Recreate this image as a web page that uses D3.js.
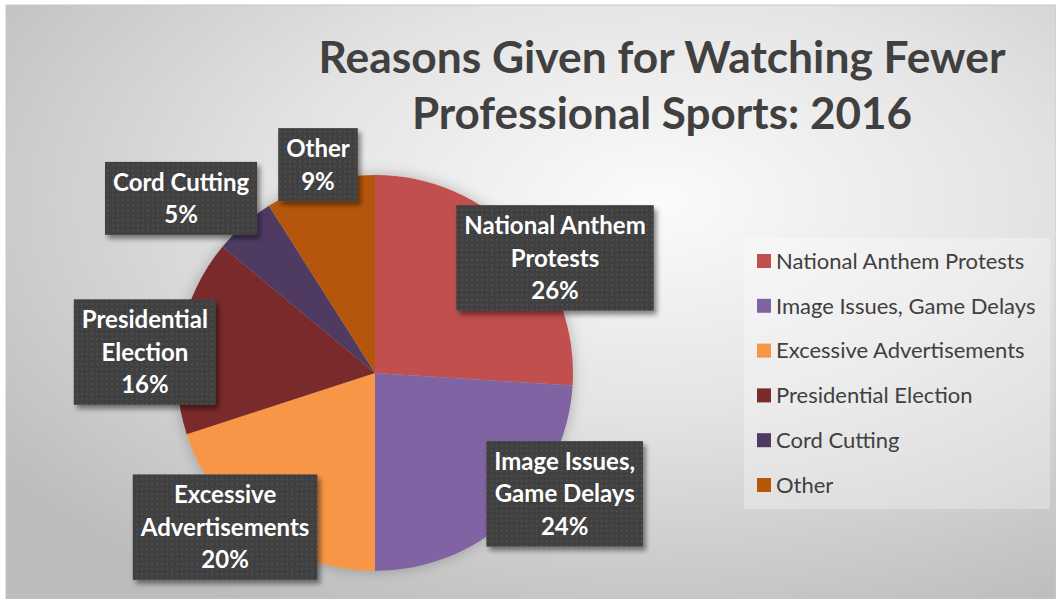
<!DOCTYPE html>
<html>
<head>
<meta charset="utf-8">
<script src="https://cdn.jsdelivr.net/npm/d3@7"></script>
<style>
  html, body { margin: 0; padding: 0; background: #ffffff; }
  svg { display: block; }
</style>
</head>
<body>
<svg id="chart" width="1056" height="599"></svg>
<script>
// ---- data ----
const categories = ["National Anthem Protests", "Image Issues, Game Delays", "Excessive Advertisements", "Presidential Election", "Cord Cutting", "Other"];
const values = [26, 24, 20, 16, 5, 9];
const labelLines = [["National Anthem", "Protests"], ["Image Issues,", "Game Delays"], ["Excessive", "Advertisements"], ["Presidential", "Election"], ["Cord Cutting"], ["Other"]];
const titleLines = ["Reasons Given for Watching Fewer", "Professional Sports: 2016"];

// ---- style / layout ----
const colors = ["#C0504D", "#8064A2", "#F79646", "#7A2C2A", "#4F3B62", "#B65708"];
// label placement: angle nudge (deg) and radius factor relative to slice mid-angle
const labelPlace = [
  { da: 10.6, k: 1.079 },
  { da: -14.3, k: 1.136 },
  { da: 8.2, k: 1.086 },
  { da: -5.6, k: 1.167 },
  { da: -6.6, k: 1.318 },
  { da: 0.9, k: 1.091 }
];

const W = 1056, H = 599;
const svg = d3.select("#chart");
const defs = svg.append("defs");

const bg = defs.append("radialGradient").attr("id", "bgGrad")
  .attr("cx", "62%").attr("cy", "33%").attr("r", "78%");
bg.append("stop").attr("offset", "0%").attr("stop-color", "#fbfbfb");
bg.append("stop").attr("offset", "45%").attr("stop-color", "#e4e4e4");
bg.append("stop").attr("offset", "100%").attr("stop-color", "#bcbcbc");

const pat = defs.append("pattern").attr("id", "dots")
  .attr("width", 5).attr("height", 5).attr("patternUnits", "userSpaceOnUse");
pat.append("rect").attr("width", 5).attr("height", 5).attr("fill", "#404040");
pat.append("rect").attr("x", 1).attr("y", 1).attr("width", 2).attr("height", 2).attr("fill", "#4d4d4d");

const sh = defs.append("filter").attr("id", "boxShadow")
  .attr("x", "-20%").attr("y", "-20%").attr("width", "150%").attr("height", "150%");
sh.append("feDropShadow").attr("dx", 3).attr("dy", 4).attr("stdDeviation", 2.5)
  .attr("flood-color", "#000").attr("flood-opacity", 0.45);

const psh = defs.append("filter").attr("id", "pieShadow")
  .attr("x", "-20%").attr("y", "-20%").attr("width", "140%").attr("height", "140%");
psh.append("feDropShadow").attr("dx", 0).attr("dy", 0).attr("stdDeviation", 7)
  .attr("flood-color", "#000").attr("flood-opacity", 0.25);

// background frame
svg.append("rect").attr("x", 6).attr("y", 5).attr("width", W - 6).attr("height", H - 5)
  .attr("fill", "url(#bgGrad)").attr("stroke", "#c8c8c8").attr("stroke-width", 1);

// title
const title = svg.append("g").attr("font-family", "Lato, 'Open Sans', sans-serif")
  .attr("font-weight", 700).attr("fill", "#404040").attr("text-anchor", "middle");
const titleY = d3.scalePoint().domain(d3.range(titleLines.length)).range([73, 129]);
const titleWidths = [687, 500];
title.selectAll("text").data(titleLines).join("text")
  .attr("x", 662).attr("y", (d, i) => titleY(i))
  .attr("font-size", 44)
  .text(d => d)
  .each(function(d, i) {
    const w = this.getComputedTextLength();
    if (Math.abs(w - titleWidths[i]) > 4) {
      d3.select(this).attr("textLength", titleWidths[i]).attr("lengthAdjust", "spacingAndGlyphs");
    }
  });

// pie
const cx = 375, cy = 373, R = 198;
const pie = d3.pie().sort(null).value(d => d);
const arcs = pie(values);
const arc = d3.arc().innerRadius(0).outerRadius(R);
const pieG = svg.append("g").attr("transform", `translate(${cx},${cy})`);
pieG.append("g").attr("filter", "url(#pieShadow)")
  .selectAll("path").data(arcs).join("path")
  .attr("d", arc).attr("fill", (d, i) => colors[i]);

// data labels
const total = d3.sum(values);
const lineH = 32.5;
const labG = pieG.append("g").attr("font-family", "Lato, 'Open Sans', sans-serif")
  .attr("font-weight", 700).attr("font-size", 24).attr("fill", "#ffffff").attr("text-anchor", "middle");
arcs.forEach((a, i) => {
  const mid = (a.startAngle + a.endAngle) / 2 + labelPlace[i].da * Math.PI / 180;
  const dist = R * labelPlace[i].k;
  const lx = Math.sin(mid) * dist, ly = -Math.cos(mid) * dist;
  const lines = labelLines[i].concat([Math.round(values[i] / total * 100) + "%"]);
  const g = labG.append("g").attr("transform", `translate(${lx},${ly})`);
  const box = g.append("rect").attr("fill", "url(#dots)").attr("filter", "url(#boxShadow)");
  const n = lines.length;
  const texts = g.selectAll("text").data(lines).join("text")
    .attr("x", 0)
    .attr("y", (d, j) => (j - (n - 1) / 2) * lineH)
    .attr("dy", "0.36em")
    .text(d => d);
  let maxW = 0;
  texts.each(function() { maxW = Math.max(maxW, this.getComputedTextLength()); });
  const bw = maxW + 16, bh = n * lineH + 8;
  box.attr("x", -bw / 2).attr("y", -bh / 2).attr("width", bw).attr("height", bh);
});

// legend
const legG = svg.append("g");
legG.append("rect").attr("x", 744).attr("y", 238).attr("width", 306).attr("height", 271)
  .attr("fill", "#ffffff").attr("fill-opacity", 0.3);
const legY = d3.scalePoint().domain(categories).range([261, 485]);
const items = legG.selectAll("g.item").data(categories).join("g").attr("class", "item")
  .attr("transform", d => `translate(757,${legY(d)})`);
items.append("rect").attr("x", 0).attr("y", -7).attr("width", 14).attr("height", 14)
  .attr("fill", (d, i) => colors[i]);
items.append("text").attr("x", 19).attr("y", 0).attr("dy", "0.35em")
  .attr("font-family", "Lato, 'Open Sans', sans-serif").attr("font-size", 22)
  .attr("fill", "#404040").text(d => d);
</script>
</body>
</html>
